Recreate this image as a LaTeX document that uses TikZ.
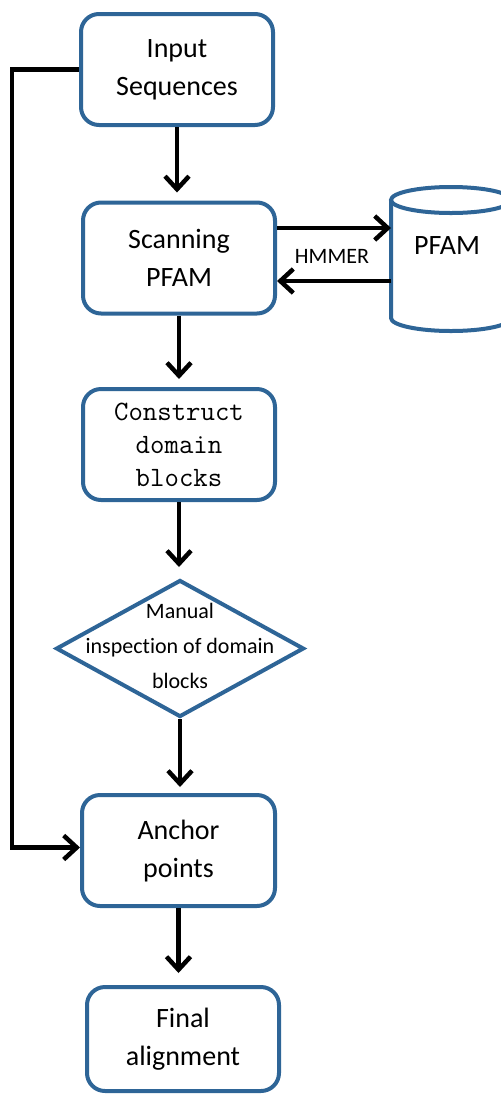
\documentclass[tikz,border=0pt]{standalone}
\usepackage{fontspec}
\setmainfont[RawFeature=-liga]{Carlito}
\usetikzlibrary{arrows.meta,shapes.geometric}
\definecolor{boxblue}{RGB}{46,101,151}
\tikzset{
  box/.style={draw=boxblue, line width=4pt, rounded corners=18pt, fill=white,
    minimum width=192pt, minimum height=111pt, align=center, inner sep=0pt,
    font=\fontsize{28}{38}\selectfont},
  monobox/.style={box, font=\ttfamily\fontsize{28}{33}\selectfont},
  dia/.style={draw=boxblue, line width=4pt, diamond, fill=white,
    minimum width=248pt, minimum height=137pt, inner sep=0pt},
  dtext/.style={align=center, inner sep=0pt, font=\fontsize{22}{35}\selectfont},
  cyl/.style={draw=boxblue, line width=4pt, fill=white},
  lab/.style={inner sep=0pt, font=\fontsize{22}{26}\selectfont},
  arr/.style={draw=black, line width=4.5pt, -{Straight Barb[length=13pt,width=24pt]}},
}
\begin{document}
\begin{tikzpicture}[x=1pt,y=1pt]
\useasboundingbox (0,0) rectangle (501,-1096);
% nodes
\node[box] (in) at (177,-69.5) {Input\\Sequences};
\node[box] (scan) at (179,-258) {Scanning\\PFAM};
\node[monobox] (cons) at (179,-444.5) {Construct\\domain\\blocks};
\node[dia] (dec) at (180,-648.5) {};
\node[dtext] (dect) at (180,-646) {Manual\\inspection of domain\\blocks};
\node[box, minimum width=193pt] (anc) at (178.5,-850.5) {\raisebox{6pt}{\begin{tabular}{@{}c@{}}Anchor\\points\end{tabular}}};
\node[box, minimum height=104pt] (fin) at (183,-1039) {Final\\alignment};
% database cylinder
\draw[cyl] (391,-200) -- (391,-318) arc[start angle=180,end angle=360,x radius=60,y radius=13] -- (511,-200);
\draw[cyl] (451,-200) ellipse[x radius=60, y radius=13];
\node[inner sep=0pt, font=\fontsize{28}{34}\selectfont] (db) at (447,-246) {PFAM};
\coordinate (dbw) at (391,-246);
\node[lab] (hm) at (332,-256) {HMMER};
% connectors
\draw[arr, shorten >=8pt] (in.south) -- (in.south |- scan.north);
\coordinate (s1) at ([yshift=30pt]scan.east);
\coordinate (s2) at ([yshift=-23pt]scan.east);
\draw[arr] (s1) -- (s1 -| dbw);
\draw[arr] (s2 -| dbw) -- (s2);
\draw[arr, shorten >=8pt] (scan.south) -- (scan.south |- cons.north);
\draw[arr, shorten >=11pt] (cons.south) -- (cons.south |- dec.north);
\draw[arr, shorten >=6pt] (dec.south) -- (dec.south |- anc.north);
\draw[arr, shorten >=12pt] (anc.south) -- (anc.south |- fin.north);
\draw[arr] (in.west) -- ++(-67,0) |- ([yshift=3pt]anc.west);
\end{tikzpicture}
\end{document}
